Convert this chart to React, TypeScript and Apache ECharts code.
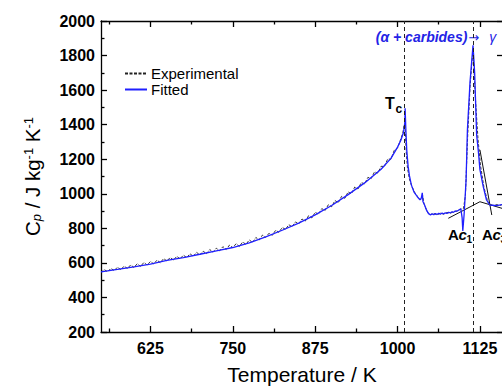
import React, { useEffect, useRef } from "react";
import * as echarts from "echarts";

const FONT = '"Liberation Sans", Arial, Helvetica, sans-serif';

const xRange = [550, 1160];
const yRange = [200, 2000];
const yInterval = 200;
const xMajorTicks = [625, 750, 875, 1000, 1125];
const xMinorTicks = [562.5, 687.5, 812.5, 937.5, 1062.5];
const transitionTemps = [1010, 1115];

const experimental: number[][] = [
  [550, 545], [555, 561], [560, 549], [565, 568], [570, 556], [575, 575], [580, 561], [585, 581], [590, 568], [595, 588],
  [600, 574], [605, 595], [610, 580], [615, 602], [620, 588], [625, 608], [630, 594], [635, 616], [640, 601], [645, 625],
  [650, 611], [655, 631], [660, 616], [665, 638], [670, 623], [675, 645], [680, 630], [685, 653], [690, 638], [695, 661],
  [700, 646], [705, 668], [710, 653], [715, 677], [720, 662], [725, 685], [730, 670], [735, 694], [740, 678], [745, 703],
  [750, 688], [755, 711], [760, 695], [765, 721], [770, 707], [775, 733], [780, 718], [785, 747], [790, 733], [795, 761],
  [800, 748], [805, 772], [810, 760], [815, 789], [820, 777], [825, 805], [830, 794], [835, 821], [840, 809], [845, 837],
  [850, 826], [855, 854], [860, 842], [865, 873], [870, 860], [875, 893], [880, 881], [885, 914], [890, 903], [895, 937],
  [900, 925], [905, 961], [910, 948], [915, 985], [920, 974], [925, 1011], [930, 1000], [935, 1039], [940, 1028], [945, 1065],
  [950, 1057], [955, 1095], [960, 1088], [965, 1127], [970, 1120], [975, 1159], [980, 1158], [985, 1201], [990, 1200], [995, 1252],
  [1000, 1265], [1005, 1318], [1008, 1352], [1010, 1400], [1011.5, 1390], [1013, 1250], [1015, 1150], [1018, 1085], [1022, 1040],
  [1026, 1008], [1030, 985], [1035, 965], [1038, 990], [1040, 945], [1044, 905], [1047, 885], [1050, 880], [1055, 886],
  [1060, 878], [1065, 888], [1070, 882], [1075, 892], [1080, 887], [1085, 897], [1090, 900], [1095, 910], [1100, 915],
  [1103, 990], [1106, 1300], [1110, 1620], [1114.5, 1840], [1118, 1560], [1122, 1320], [1126, 1160], [1131, 1040],
  [1136, 965], [1140, 940], [1145, 932], [1150, 938], [1155, 932], [1160, 940],
];

const fitted: number[][] = [
  [550, 548], [575, 562], [600, 577], [625, 593], [650, 614], [675, 631], [700, 650], [725, 670], [750, 689], [775, 716],
  [800, 750], [825, 789], [850, 830], [875, 878], [900, 932], [925, 995], [950, 1063], [975, 1142], [990, 1205], [1000, 1270],
  [1005, 1310], [1009, 1355], [1011, 1410], [1011.5, 1495], [1012.5, 1380], [1014, 1250], [1016, 1160], [1018, 1105],
  [1021, 1050], [1025, 1010], [1030, 983], [1034, 965], [1036, 975], [1037.5, 1005], [1038.5, 955], [1041, 935], [1044, 905],
  [1047, 885], [1050, 878], [1052.5, 884], [1055, 879], [1057.5, 886], [1060, 880], [1062.5, 887], [1065, 882], [1067.5, 889],
  [1070, 884], [1072.5, 890], [1075, 886], [1077.5, 893], [1080, 889], [1082.5, 896], [1085, 893], [1087.5, 900], [1090, 899],
  [1093, 906], [1096, 913], [1098, 860], [1099, 785], [1101, 880], [1104, 1080], [1106, 1370], [1110, 1650], [1114.5, 1860],
  [1117, 1700], [1120, 1340], [1122.5, 1250], [1125, 1140], [1130, 1041], [1135, 964], [1140, 935], [1150, 932], [1160, 938],
];

const tangentAc1: number[][] = [[1077, 858], [1125, 954]];
const tangentAc3Base: number[][] = [[1125, 954], [1160, 914]];
const tangentAc3Drop: number[][] = [[1125, 1254], [1143, 877]];

// annotation anchors in data coordinates
const tcAnchor = [981, 1525];
const phaseAnchor = [967, 1907];
const ac1Anchor = [1076.5, 762];
const ac3Anchor = [1128, 762];

export default function App() {
  const ref = useRef<HTMLDivElement>(null);
  useEffect(() => {
    const chart = echarts.init(ref.current!, null, { renderer: "svg" });
    const grid = { left: 101, top: 21, width: 402, height: 311, outerBoundsMode: "none", containLabel: false };
    const lineW = 1.3;
    const black = "#000";
    const plain = (v: number) => String(v);
    const hidden = {
      type: "value",
      min: xRange[0],
      max: xRange[1],
      splitLine: { show: false },
      axisLine: { show: false },
      axisLabel: { show: false },
    };
    const option: any = {
      animation: false,
      backgroundColor: "#fff",
      textStyle: { fontFamily: FONT },
      grid: [{ ...grid }, { ...grid }],
      legend: {
        data: ["Experimental", "Fitted"],
        orient: "vertical",
        left: 124,
        top: 66,
        padding: 0,
        itemWidth: 22,
        itemHeight: 10,
        itemGap: 1,
        itemStyle: { color: "rgba(0,0,0,0)", borderColor: "rgba(0,0,0,0)", borderWidth: 0, opacity: 0 },
        textStyle: { fontSize: 15, lineHeight: 15, color: black, fontFamily: FONT, padding: [0, 0, 0, -1] },
      },
      xAxis: [
        {
          type: "value",
          gridIndex: 0,
          position: "bottom",
          min: xRange[0],
          max: xRange[1],
          splitLine: { show: false },
          axisLine: { show: true, onZero: false, lineStyle: { color: black, width: lineW } },
          axisTick: { show: true, inside: true, length: 6, customValues: xMajorTicks, lineStyle: { color: black, width: lineW } },
          axisLabel: { customValues: xMajorTicks, formatter: plain, margin: 8, fontSize: 16, fontWeight: "bold", color: black, fontFamily: FONT },
          name: "Temperature / K",
          nameLocation: "middle",
          nameGap: 32,
          nameTextStyle: { fontSize: 21, color: black, fontFamily: FONT },
        },
        {
          type: "value",
          gridIndex: 0,
          position: "top",
          min: xRange[0],
          max: xRange[1],
          splitLine: { show: false },
          axisLine: { show: true, onZero: false, lineStyle: { color: black, width: lineW } },
          axisTick: { show: true, inside: true, length: 6, customValues: xMajorTicks, lineStyle: { color: black, width: lineW } },
          axisLabel: { show: false },
        },
        {
          ...hidden,
          gridIndex: 1,
          position: "bottom",
          axisTick: { show: true, inside: true, length: 3.5, customValues: xMinorTicks, lineStyle: { color: black, width: lineW } },
        },
        {
          ...hidden,
          gridIndex: 1,
          position: "top",
          axisTick: { show: true, inside: true, length: 3.5, customValues: xMinorTicks, lineStyle: { color: black, width: lineW } },
        },
      ],
      yAxis: [
        {
          type: "value",
          gridIndex: 0,
          position: "left",
          min: yRange[0],
          max: yRange[1],
          interval: yInterval,
          splitLine: { show: false },
          axisLine: { show: true, onZero: false, lineStyle: { color: black, width: lineW } },
          axisTick: { show: true, inside: true, length: 6, lineStyle: { color: black, width: lineW } },
          minorTick: { show: true, splitNumber: 2, length: 3.5, lineStyle: { color: black, width: lineW } },
          axisLabel: { formatter: plain, margin: 6, fontSize: 16, fontWeight: "bold", color: black, fontFamily: FONT },
          name: "{n|C}{s|p}{n| / J kg}{u|-1}{n| K}{u|-1}",
          nameLocation: "middle",
          nameGap: 58,
          nameTextStyle: {
            color: black,
            fontFamily: FONT,
            rich: {
              n: { fontSize: 20.5, color: black, fontFamily: FONT },
              s: { fontSize: 13, fontStyle: "italic", color: black, fontFamily: FONT, verticalAlign: "bottom" },
              u: { fontSize: 13, color: black, fontFamily: FONT, verticalAlign: "top" },
            },
          },
        },
        {
          type: "value",
          gridIndex: 0,
          position: "right",
          min: yRange[0],
          max: yRange[1],
          interval: yInterval,
          splitLine: { show: false },
          axisLine: { show: true, onZero: false, lineStyle: { color: black, width: lineW } },
          axisTick: { show: true, inside: true, length: 6, lineStyle: { color: black, width: lineW } },
          axisLabel: { show: false },
        },
        {
          type: "value",
          gridIndex: 1,
          min: yRange[0],
          max: yRange[1],
          show: false,
        },
      ],
      series: [
        {
          name: "Experimental",
          type: "line",
          xAxisIndex: 0,
          yAxisIndex: 0,
          data: experimental,
          symbol: "none",
          lineStyle: { color: "#222", width: 0.9, type: [3, 1.5] },
          itemStyle: { color: "#222" },
          z: 2,
          markLine: {
            silent: true,
            symbol: ["none", "none"],
            label: { show: false },
            lineStyle: { color: "#222", width: 1, type: [4, 3] },
            data: transitionTemps.map((t) => ({ xAxis: t })),
          },
        },
        { name: "tangentAc1", type: "line", data: tangentAc1, symbol: "none", lineStyle: { color: "#111", width: 1 }, z: 2 },
        { name: "tangentAc3Base", type: "line", data: tangentAc3Base, symbol: "none", lineStyle: { color: "#111", width: 1 }, z: 2 },
        { name: "tangentAc3Drop", type: "line", data: tangentAc3Drop, symbol: "none", lineStyle: { color: "#111", width: 1 }, z: 2 },
        {
          name: "Fitted",
          type: "line",
          xAxisIndex: 0,
          yAxisIndex: 0,
          data: fitted,
          symbol: "none",
          lineStyle: { color: "#1f1fff", width: 1.3 },
          itemStyle: { color: "#1f1fff" },
          z: 3,
        },
      ],
    };
    chart.setOption(option);

    const px = (p: number[]) => chart.convertToPixel({ gridIndex: 0 }, p) as number[];
    const tc = px(tcAnchor);
    const ph = px(phaseAnchor);
    const a1 = px(ac1Anchor);
    const a3 = px(ac3Anchor);
    const bold = (size: number, italic = false) => `${italic ? "italic " : ""}bold ${size}px ${FONT}`;
    const acGroup = (pos: number[], sub: string) => ({
      type: "group",
      x: pos[0],
      y: pos[1],
      children: [
        { type: "text", x: 0, y: 0, style: { text: "A", font: bold(15), fill: "#000", verticalAlign: "middle" } },
        { type: "text", x: 10.5, y: 0, style: { text: "c", font: bold(15, true), fill: "#000", verticalAlign: "middle" } },
        { type: "text", x: 18.5, y: 5, style: { text: sub, font: bold(10), fill: "#000", verticalAlign: "middle" } },
      ],
    });
    const blue = "#2323e6";
    chart.setOption({
      graphic: [
        {
          type: "group",
          x: tc[0],
          y: tc[1],
          children: [
            { type: "text", x: 0, y: 0, style: { text: "T", font: bold(16), fill: "#000", verticalAlign: "middle" } },
            { type: "text", x: 10.5, y: 6, style: { text: "c", font: bold(12), fill: "#000", verticalAlign: "middle" } },
          ],
        },
        {
          type: "text",
          x: ph[0],
          y: ph[1],
          style: {
            text: "{a|(\u03b1 + carbides)}{b|\u2192}{c| \u03b3}",
            verticalAlign: "middle",
            rich: {
              a: { fontSize: 14, fontWeight: "bold", fontStyle: "italic", fontFamily: FONT, fill: blue },
              b: { fontSize: 13, fontWeight: "normal", fontFamily: "DejaVu Sans, sans-serif", fill: blue, padding: [0, 6, 0, 1] },
              c: { fontSize: 14, fontWeight: "normal", fontStyle: "italic", fontFamily: FONT, fill: blue },
            },
          },
        },
        acGroup(a1, "1"),
        acGroup(a3, "3"),
      ],
    });
    return () => chart.dispose();
  }, []);
  return (
    <div ref={ref} style={{ position: "absolute", left: 0, top: 0, width: 502, height: 386, background: "#fff" }} />
  );
}
